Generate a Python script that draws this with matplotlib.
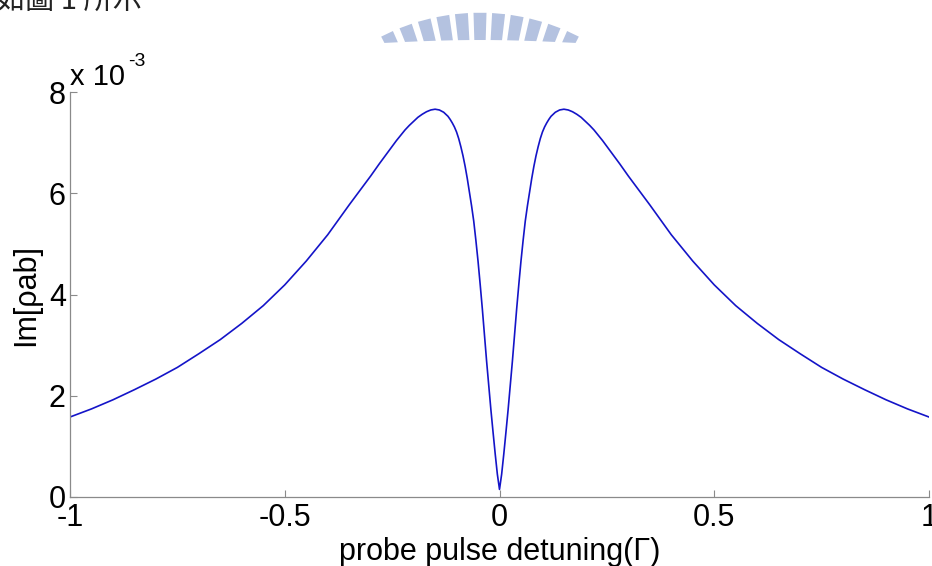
import numpy as np
import matplotlib
matplotlib.use('Agg')
import matplotlib.pyplot as plt
from matplotlib.patches import Polygon
from matplotlib.ticker import FuncFormatter

# probe detuning (units of Gamma) and Im[rho_ab] (units of 1e-3)
detuning = [-1.00, -0.95, -0.90, -0.85, -0.80, -0.75, -0.70, -0.65, -0.60, -0.55,
            -0.50, -0.45, -0.40, -0.35, -0.30, -0.28, -0.26, -0.24, -0.22, -0.21,
            -0.20, -0.19, -0.18, -0.17, -0.16, -0.15, -0.14, -0.13, -0.12, -0.115,
            -0.11, -0.105, -0.10, -0.095, -0.09, -0.085, -0.08, -0.075, -0.07, -0.065,
            -0.06, -0.055, -0.05, -0.045, -0.04, -0.035, -0.03, -0.025, -0.02, -0.015,
            -0.01, -0.005, 0.00,
            0.005, 0.01, 0.015, 0.02, 0.025, 0.03, 0.035, 0.04, 0.045, 0.05,
            0.055, 0.06, 0.065, 0.07, 0.075, 0.08, 0.085, 0.09, 0.095, 0.10,
            0.105, 0.11, 0.115, 0.12, 0.13, 0.14, 0.15, 0.16, 0.17, 0.18,
            0.19, 0.20, 0.21, 0.22, 0.24, 0.26, 0.28, 0.30, 0.35, 0.40,
            0.45, 0.50, 0.55, 0.60, 0.65, 0.70, 0.75, 0.80, 0.85, 0.90,
            0.95, 1.00]
im_rho = [1.58, 1.74, 1.92, 2.12, 2.33, 2.56, 2.83, 3.11, 3.43, 3.78,
          4.19, 4.66, 5.18, 5.77, 6.34, 6.58, 6.81, 7.04, 7.25, 7.34,
          7.42, 7.50, 7.56, 7.61, 7.645, 7.66, 7.645, 7.60, 7.52, 7.46,
          7.39, 7.31, 7.21, 7.08, 6.92, 6.74, 6.53, 6.29, 6.02, 5.75,
          5.45, 5.07, 4.66, 4.20, 3.72, 3.20, 2.68, 2.20, 1.72, 1.28,
          0.85, 0.45, 0.15,
          0.45, 0.85, 1.28, 1.72, 2.20, 2.68, 3.20, 3.72, 4.20, 4.66,
          5.07, 5.45, 5.75, 6.02, 6.29, 6.53, 6.74, 6.92, 7.08, 7.21,
          7.31, 7.39, 7.46, 7.52, 7.60, 7.645, 7.66, 7.645, 7.61, 7.56,
          7.50, 7.42, 7.34, 7.25, 7.04, 6.81, 6.58, 6.34, 5.77, 5.18,
          4.66, 4.19, 3.78, 3.43, 3.11, 2.83, 2.56, 2.33, 2.12, 1.92,
          1.74, 1.58]

x_ticks = [-1, -0.5, 0, 0.5, 1]
x_tick_labels = ['-1', '-0.5', '0', '0.5', '1']
y_ticks = [0, 2e-3, 4e-3, 6e-3, 8e-3]

plt.rcParams['font.family'] = ['Liberation Sans', 'DejaVu Sans']

W, H = 932, 566
fig = plt.figure(figsize=(W / 100, H / 100), dpi=100)
fig.patch.set_facecolor('white')

# full-figure layer in pixel units for the page bits around the plot
ov = fig.add_axes([0, 0, 1, 1], zorder=-1)
ov.set_xlim(0, W)
ov.set_ylim(H, 0)
ov.axis('off')

# faded logo arch at the top of the page
cx, cy, r_out = 480, 228.7, 216
for k in range(-5, 6):
    xc = cx + k * 18.6
    phi = np.arcsin((xc - cx) / r_out)
    d = 6.5 / r_out
    pts = []
    for a in (phi - d, phi + d):
        pts.append((cx + r_out * np.sin(a), cy - r_out * np.cos(a)))
    for a in (phi + d, phi - d):
        xo = cx + r_out * np.sin(a)
        y_in = 40 + 3 * ((xo - cx) / 100) ** 2
        r_in = (cy - y_in) / np.cos(a)
        pts.append((cx + r_in * np.sin(a), cy - r_in * np.cos(a)))
    pts = [(px, min(py, 43)) for px, py in pts]
    ov.add_patch(Polygon(pts, closed=True, facecolor='#b4c2e0', edgecolor='none'))

# line of body text cut off at the top edge
ov.text(-4, 9, '如圖 1 所示', fontsize=21, va='baseline', ha='left',
        family=['Noto Sans CJK TC', 'DejaVu Sans'], color='#222222')

# exponent marker above the y axis
ov.text(70, 85, 'x 10', fontsize=21, va='baseline', ha='left')
ov.text(128, 66, '-3', fontsize=14, va='baseline', ha='left')

ax = fig.add_axes([70 / W, 1 - 497 / H, 859 / W, 405 / H])
ax.patch.set_alpha(0)
ax.plot(detuning, np.array(im_rho) * 1e-3, color='#1414c8', lw=1.2)

ax.set_xlim(-1, 1)
ax.set_ylim(0, 8e-3)
ax.set_xticks(x_ticks)
ax.set_xticklabels(x_tick_labels)
ax.set_yticks(y_ticks)
ax.yaxis.set_major_formatter(FuncFormatter(lambda v, p: '%g' % round(v * 1e3, 6)))

for s in ['top', 'right']:
    ax.spines[s].set_visible(False)
for s in ['left', 'bottom']:
    ax.spines[s].set_color('#8a8a8a')
    ax.spines[s].set_linewidth(0.9)

ax.tick_params(direction='in', length=5, width=0.8, color='#8a8a8a',
               labelsize=22, labelcolor='black')
ax.tick_params(axis='x', pad=4)
ax.tick_params(axis='y', pad=3)

ax.set_xlabel('probe pulse detuning(Γ)', fontsize=22, va='baseline')
ax.xaxis.set_label_coords(0.5, (497 - 560) / 405)
ax.set_ylabel('Im[ρab]', fontsize=22)
ax.yaxis.set_label_coords((41 - 70) / 859, 0.5)

fig.savefig('out.png', dpi=100)
